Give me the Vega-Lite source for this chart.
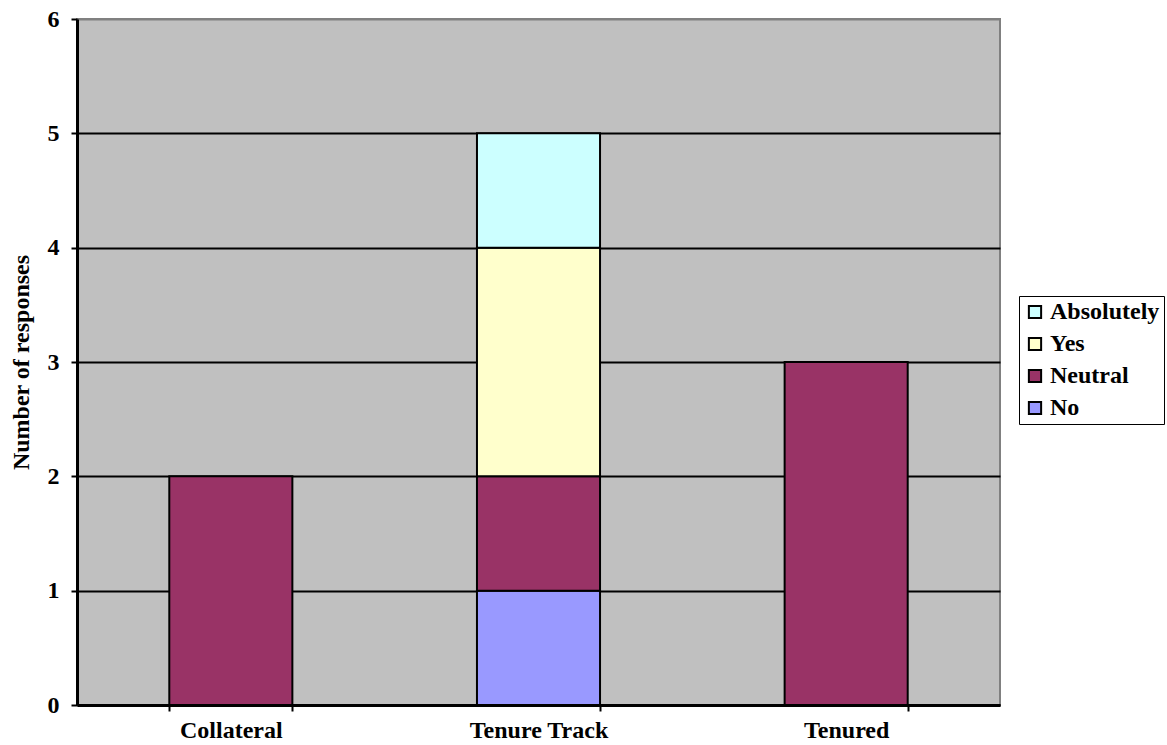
{
  "$schema": "https://vega.github.io/schema/vega-lite/v6.json",
  "width": 923,
  "height": 686,
  "autosize": {"type": "none"},
  "padding": {"left": 77, "top": 19, "right": 167, "bottom": 40},
  "background": "white",
  "config": {
    "font": "Liberation Serif",
    "view": {"fill": "#C0C0C0", "stroke": "#808080", "strokeWidth": 2}
  },
  "data": {
    "values": [
      {"category": "Collateral", "response": "Neutral", "count": 2, "rank": 2},
      {"category": "Tenure Track", "response": "No", "count": 1, "rank": 1},
      {"category": "Tenure Track", "response": "Neutral", "count": 1, "rank": 2},
      {"category": "Tenure Track", "response": "Yes", "count": 2, "rank": 3},
      {"category": "Tenure Track", "response": "Absolutely", "count": 1, "rank": 4},
      {"category": "Tenured", "response": "Neutral", "count": 3, "rank": 2}
    ]
  },
  "mark": {"type": "bar", "stroke": "black", "strokeWidth": 2},
  "encoding": {
    "x": {
      "field": "category",
      "type": "nominal",
      "sort": ["Collateral", "Tenure Track", "Tenured"],
      "scale": {"paddingInner": 0.6, "paddingOuter": 0.3},
      "axis": {
        "title": null,
        "labelAngle": 0,
        "labelFont": "Liberation Serif",
        "labelFontSize": 24,
        "labelFontWeight": "bold",
        "labelColor": "black",
        "labelPadding": 7,
        "tickBand": "extent",
        "tickColor": "black",
        "tickWidth": 2,
        "tickSize": 6,
        "domainColor": "black",
        "domainWidth": 3,
        "grid": false
      }
    },
    "y": {
      "field": "count",
      "type": "quantitative",
      "stack": "zero",
      "scale": {"domain": [0, 6], "nice": false},
      "axis": {
        "title": "Number of responses",
        "titleFont": "Liberation Serif",
        "titleFontSize": 24,
        "titleFontWeight": "bold",
        "titleColor": "black",
        "titlePadding": 14,
        "values": [0, 1, 2, 3, 4, 5, 6],
        "labelFont": "Liberation Serif",
        "labelFontSize": 24,
        "labelFontWeight": "bold",
        "labelColor": "black",
        "labelPadding": 12,
        "tickColor": "black",
        "tickWidth": 2,
        "tickSize": 6,
        "domainColor": "black",
        "domainWidth": 3,
        "grid": true,
        "gridColor": {"condition": {"test": "datum.value == 6", "value": "#808080"}, "value": "black"},
        "gridWidth": 2,
        "gridOpacity": 1
      }
    },
    "color": {
      "field": "response",
      "type": "nominal",
      "scale": {
        "domain": ["Absolutely", "Yes", "Neutral", "No"],
        "range": ["#CCFFFF", "#FFFFCC", "#993366", "#9999FF"]
      },
      "legend": {
        "title": null,
        "orient": "none",
        "legendX": 942,
        "legendY": 277,
        "strokeColor": "black",
        "fillColor": "white",
        "padding": 4,
        "symbolType": "square",
        "symbolSize": 150,
        "symbolStrokeColor": "black",
        "symbolStrokeWidth": 2,
        "symbolOpacity": 1,
        "labelFont": "Liberation Serif",
        "labelFontSize": 24,
        "labelFontWeight": "bold",
        "labelColor": "black",
        "labelOffset": 3,
        "rowPadding": 8
      }
    },
    "order": {"field": "rank", "type": "quantitative", "sort": "ascending"}
  }
}
